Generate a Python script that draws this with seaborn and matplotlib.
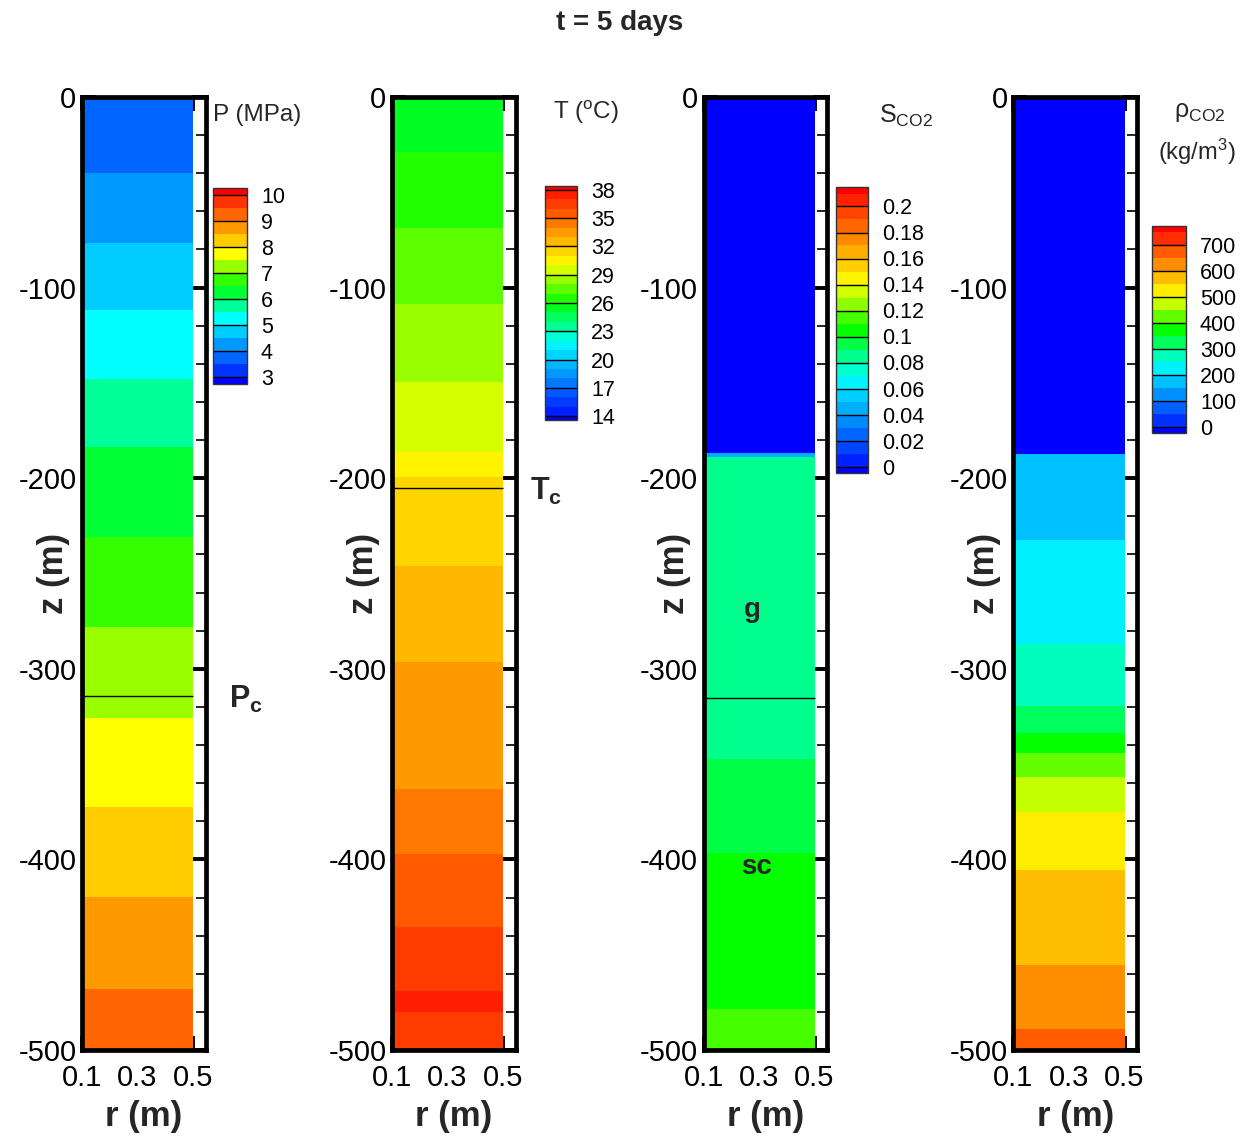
import numpy as np
import matplotlib
matplotlib.use("Agg")
import matplotlib as mpl
import matplotlib.pyplot as plt
import matplotlib.transforms as mtransforms
from matplotlib.colors import ListedColormap, BoundaryNorm
from matplotlib.ticker import MultipleLocator, FixedLocator, NullLocator
import seaborn as sns

# ---------------------------------------------------------------------------
# Wellbore column profiles at t = 5 days (banded contour values vs depth)
# ---------------------------------------------------------------------------
r_edges = [0.1, 0.5]                      # radial extent of the column (m)

# Pressure (MPa)
P_z = [0, -39.7, -76.4, -112.0, -148.0, -183.6, -230.9, -278.3, -326.0,
       -372.6, -419.8, -468.2, -500.0]
P_val = [3.75, 4.25, 4.75, 5.25, 5.75, 6.25, 6.75, 7.25, 7.75, 8.25, 8.75, 9.25]
P_levels = np.arange(3.0, 10.01, 0.5)
P_ticks = [3, 4, 5, 6, 7, 8, 9, 10]
P_ext = (0.25, 0.25)
pc_depth_P = -314.3

# Temperature (deg C)
T_z = [0, -28.7, -68.6, -108.6, -149.4, -186.4, -199.5, -245.9, -296.3,
       -363.0, -397.2, -435.3, -468.9, -479.9, -500.0]
T_val = [25.5, 26.5, 27.5, 28.5, 29.5, 30.5, 31.5, 32.5, 33.5, 34.5, 35.5,
         36.5, 37.5, 36.5]
T_levels = np.arange(14, 38.01, 1.0)
T_ticks = [14, 17, 20, 23, 26, 29, 32, 35, 38]
T_ext = (0.4, 0.4)
tc_depth = -205.0

# CO2 saturation (-)
S_z = [0, -187.0, -189.0, -347.5, -396.8, -478.5, -500.0]
S_val = [0.0, 0.045, 0.085, 0.095, 0.105, 0.115]
S_levels = np.arange(0.0, 0.2101, 0.01)
S_ticks = [0, 0.02, 0.04, 0.06, 0.08, 0.1, 0.12, 0.14, 0.16, 0.18, 0.2]
S_ext = (0.005, 0.005)
pc_depth_S = -315.5

# CO2 density (kg/m3)
R_z = [0, -187.3, -232.4, -287.2, -319.4, -333.9, -344.0, -356.6, -375.0,
       -405.6, -455.4, -489.0, -500.0]
R_val = [0, 175, 225, 275, 325, 375, 425, 475, 525, 575, 625, 675]
R_levels = np.arange(0, 750.1, 50)
R_ticks = [0, 100, 200, 300, 400, 500, 600, 700]
R_ext = (25, 25)

# ---------------------------------------------------------------------------
sns.set_theme(style="ticks")
plt.rcParams["font.family"] = ["Liberation Sans", "DejaVu Sans"]
plt.rcParams["axes.unicode_minus"] = False
plt.rcParams["mathtext.fontset"] = "custom"
plt.rcParams["mathtext.rm"] = "Liberation Sans"
plt.rcParams["mathtext.bf"] = "Liberation Sans:bold"
plt.rcParams["mathtext.it"] = "Liberation Sans:italic"

W, H = 1248, 1139
fig = plt.figure(figsize=(W / 100, H / 100), dpi=100)


def rect(left, top, right, bottom):
    return [left / W, 1 - bottom / H, (right - left) / W, (bottom - top) / H]


rainbow = ["#0000ff", "#0080ff", "#00ffff", "#00ff00", "#ffff00", "#ff8000", "#ff0000"]


def band_colors(levels):
    return sns.blend_palette(rainbow, n_colors=len(levels) + 1)


def draw_column(ax, z_edges, values, levels):
    colors = band_colors(levels)
    idx = np.searchsorted(levels, np.asarray(values, float) - 1e-12, side="left")
    C = idx.astype(float).reshape(-1, 1)
    ax.pcolormesh(r_edges, z_edges, C, cmap=ListedColormap(colors),
                  vmin=-0.5, vmax=len(colors) - 0.5, shading="flat")
    ax.set_xlim(0.1, 0.545)
    ax.set_ylim(-500, 0)
    ax.xaxis.set_major_locator(FixedLocator([0.1, 0.3, 0.5]))
    ax.set_xticklabels(["0.1", "0.3", "0.5"])
    ax.xaxis.set_minor_locator(MultipleLocator(0.05))
    ax.yaxis.set_major_locator(MultipleLocator(100))
    ax.yaxis.set_minor_locator(MultipleLocator(20))
    ax.tick_params(which="both", direction="in", top=True, right=True,
                   colors="black", labelsize=21)
    ax.tick_params(which="major", length=10, width=2.8)
    ax.tick_params(which="minor", length=7, width=1.2)
    ax.tick_params(axis="y", pad=4)
    ax.tick_params(axis="x", pad=10)
    for s in ax.spines.values():
        s.set_linewidth(3.4)
        s.set_color("black")
    ax.set_xlabel("r (m)", fontsize=25, fontweight="bold", labelpad=6)
    ax.set_ylabel("z (m)", fontsize=25, fontweight="bold")
    ax.yaxis.set_label_coords(-0.1, 0.5)
    ax.grid(False)
    ax.set_facecolor("white")


def draw_colorbar(cax, levels, ext, ticks, labels):
    colors = band_colors(levels)
    bounds = np.concatenate([[levels[0] - ext[0]], levels, [levels[-1] + ext[1]]])
    norm = BoundaryNorm(bounds, len(colors))
    sm = mpl.cm.ScalarMappable(norm=norm, cmap=ListedColormap(colors))
    cb = fig.colorbar(sm, cax=cax, ticks=ticks, spacing="proportional")
    cb.set_ticklabels(labels)
    cb.ax.yaxis.set_minor_locator(NullLocator())
    cb.ax.tick_params(which="both", length=0, labelsize=15.5, pad=10, colors="black")
    cb.outline.set_linewidth(1.0)
    cb.outline.set_edgecolor("#333333")
    cax.hlines(ticks, 0, 1, colors="black", linewidth=1.0,
               transform=cax.get_yaxis_transform())
    return cb


lefts = [82, 392, 703.5, 1013.5]
axes = [fig.add_axes(rect(l, 97, l + 123.5, 1050)) for l in lefts]

draw_column(axes[0], P_z, P_val, P_levels)
draw_column(axes[1], T_z, T_val, T_levels)
draw_column(axes[2], S_z, S_val, S_levels)
draw_column(axes[3], R_z, R_val, R_levels)

# critical-point markers
axes[0].hlines(pc_depth_P, r_edges[0], r_edges[1], colors="black", linewidth=1.0)
axes[1].hlines(tc_depth, r_edges[0], r_edges[1], colors="black", linewidth=1.0)
axes[2].hlines(pc_depth_S, r_edges[0], r_edges[1], colors="black", linewidth=1.0)

tr0 = mtransforms.blended_transform_factory(axes[0].transAxes, axes[0].transData)
axes[0].text(1.19, pc_depth_P - 2, r"$\mathbf{P_c}$", transform=tr0, fontsize=22,
             ha="left", va="center", clip_on=False)
tr1 = mtransforms.blended_transform_factory(axes[1].transAxes, axes[1].transData)
axes[1].text(1.12, tc_depth - 2, r"$\mathbf{T_c}$", transform=tr1, fontsize=22,
             ha="left", va="center", clip_on=False)

axes[2].text(0.275, -269, "g", fontsize=20, fontweight="bold", ha="center", va="center")
axes[2].text(0.29, -404, "sc", fontsize=20, fontweight="bold", ha="center", va="center")

# colour legends
cP = fig.add_axes(rect(213, 188, 247, 384))
draw_colorbar(cP, P_levels, P_ext, P_ticks, [f"{v:g}" for v in P_ticks])
cT = fig.add_axes(rect(545, 186, 577, 420))
draw_colorbar(cT, T_levels, T_ext, T_ticks, [f"{v:g}" for v in T_ticks])
cS = fig.add_axes(rect(836, 187, 868, 473))
draw_colorbar(cS, S_levels, S_ext, S_ticks, [f"{v:g}" for v in S_ticks])
cR = fig.add_axes(rect(1152, 226, 1186, 433))
draw_colorbar(cR, R_levels, R_ext, R_ticks, [f"{v:g}" for v in R_ticks])

fig.text(213 / W, 1 - 115 / H, "P (MPa)", fontsize=17.5, ha="left", va="center")
fig.text(553 / W, 1 - 112 / H, r"T ($^{\mathrm{o}}$C)", fontsize=17.5, ha="left", va="center")
fig.text(879 / W, 1 - 116 / H, r"S$_{\mathrm{CO2}}$", fontsize=18, ha="left", va="center")
fig.text(1174 / W, 1 - 112 / H, r"ρ$_{\mathrm{CO2}}$", fontsize=18, ha="left", va="center")
fig.text(1158 / W, 1 - 152 / H, r"(kg/m$^{3}$)", fontsize=17, ha="left", va="center")

fig.text(620 / W, 1 - 23 / H, "t = 5 days", fontsize=20, fontweight="bold",
         ha="center", va="center")

fig.savefig("out.png", dpi=100, facecolor="white")
